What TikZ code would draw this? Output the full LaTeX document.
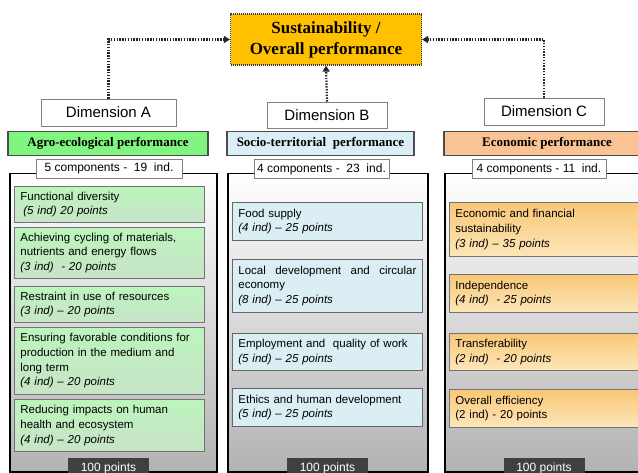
\documentclass[tikz,border=0pt]{standalone}
\usepackage{fontspec}
\setmainfont{Liberation Serif}
\setsansfont{Liberation Sans}
\usetikzlibrary{arrows.meta,positioning}
\definecolor{gold}{RGB}{255,192,0}
\definecolor{agro}{RGB}{128,245,128}
\definecolor{socio}{RGB}{220,238,245}
\definecolor{econ}{RGB}{250,195,150}
\definecolor{greentop}{RGB}{188,245,188}
\definecolor{greenbot}{RGB}{200,228,200}
\definecolor{bluebox}{RGB}{218,238,243}
\definecolor{orangetop}{RGB}{249,199,118}
\definecolor{orangebot}{RGB}{253,230,186}

\begin{document}
\begin{tikzpicture}[x=1pt,y=-1pt,
    dimbox/.style={draw=gray, fill=white, line width=.8pt, inner sep=0pt, minimum height=27pt,
      font=\sffamily\fontsize{15}{18}\selectfont},
    bar/.style={draw=black!70, line width=1.8pt, inner sep=0pt, minimum height=24pt,
      font=\rmfamily\bfseries\fontsize{13}{15}\selectfont},
    panel/.style={draw=black, line width=1.5pt, top color=white, bottom color=gray!60,
      anchor=north west, inner sep=0pt},
    countbox/.style={draw=gray, fill=white, line width=.8pt, inner sep=0pt, minimum height=19pt,
      font=\sffamily\fontsize{12}{14}\selectfont},
    compbox/.style={anchor=north west, line width=.8pt, text width=178pt, inner xsep=6pt,
      inner ysep=2pt, align=left, font=\sffamily\fontsize{11.5}{14.7}\selectfont},
    greencomp/.style={compbox, draw=black!55, top color=greentop, bottom color=greenbot},
    bluecomp/.style={compbox, draw=black!60, fill=bluebox},
    orangecomp/.style={compbox, draw=black!55, top color=orangetop, bottom color=orangebot},
    pts/.style={fill=black!75, text=white, anchor=north, inner sep=0pt, minimum width=81pt,
      minimum height=20pt, font=\sffamily\fontsize{12}{14}\selectfont},
    dotarrow/.style={line width=2.2pt, dash pattern=on 1.4pt off 1.4pt, black!85,
      -{Triangle[length=6pt,width=7pt]}}]

  \useasboundingbox (0,0) rectangle (638,473);
  \clip (0,0) rectangle (638,473);

  \node[draw=black!80, dash pattern=on 1pt off 1pt, line width=1.2pt, fill=gold, minimum width=191pt,
    minimum height=51pt, align=center, font=\rmfamily\bfseries\fontsize{17}{21}\selectfont] (S) at (326,39.5)
    {Sustainability /\\Overall performance};

  \node[dimbox, minimum width=135pt] (dimA) at (108.5,112.5) {Dimension A};
  \node[dimbox, minimum width=120pt, minimum height=26pt] (dimB) at (327,115) {Dimension B};
  \node[dimbox, minimum width=120pt] (dimC) at (544,111.5) {Dimension C};

  \draw[dotarrow] (dimA.north) |- (S.west);
  \draw[dotarrow] (dimB.north) -- (S.south);
  \draw[dotarrow] (dimC.north) |- (S.east);

  \node[bar, fill=agro, minimum width=200pt] (barA) at (108,143.5) {Agro-ecological performance};
  \node[bar, fill=socio, minimum width=187pt] (barB) at (320.5,143.5) {Socio-territorial\ \ performance};
  \node[bar, fill=econ, minimum width=206pt] (barC) at (547,143.5) {Economic performance};

  \node[panel, minimum width=207pt, minimum height=298pt] (panelA) at (9,173) {};
  \node[panel, minimum width=200pt, minimum height=298pt] (panelB) at (227,173) {};
  \node[panel, minimum width=206pt, minimum height=298pt] (panelC) at (444,173) {};

  \node[countbox, minimum width=146pt] (countA) at (109,168.5) {5 components -\ \ 19\ \ ind.};
  \node[countbox, minimum width=135pt] (countB) at (321.5,169) {4 components -\ \ 23\ \ ind.};
  \node[countbox, minimum width=134pt] (countC) at (539,169) {4 components - 11\ \ ind.};

  \node[greencomp, minimum height=36pt] (a1) at (14,186)
    {Functional diversity\\\hspace*{3pt}\textit{(5 ind) 20 points}};
  \node[greencomp, minimum height=51pt] (a2) at (14,227)
    {Achieving cycling of materials,\\nutrients and energy flows\\\textit{(3 ind)\ \ - 20 points}};
  \node[greencomp, minimum height=36pt] (a3) at (14,286)
    {Restraint in use of resources\\\textit{(3 ind) -- 20 points}};
  \node[greencomp, minimum height=67pt] (a4) at (14,327)
    {Ensuring favorable conditions for\\production in the medium and\\long term\\\textit{(4 ind) -- 20 points}};
  \node[greencomp, minimum height=52pt] (a5) at (14,399)
    {Reducing impacts on human\\health and ecosystem\\\textit{(4 ind) -- 20 points}};

  \node[bluecomp, minimum height=38pt] (b1) at (232,202)
    {Food supply\\\textit{(4 ind) -- 25 points}};
  \node[bluecomp, minimum height=53pt] (b2) at (232,259)
    {Local\hfill development\hfill and\hfill circular\\economy\\\textit{(8 ind) -- 25 points}};
  \node[bluecomp, minimum height=37pt] (b3) at (232,333)
    {Employment and\ \ quality of work\\\textit{(5 ind) -- 25 points}};
  \node[bluecomp, minimum height=38pt] (b4) at (232,388)
    {Ethics and human development\\\textit{(5 ind) -- 25 points}};

  \node[orangecomp, minimum height=54pt] (c1) at (449,202)
    {Economic and financial\\sustainability\\\textit{(3 ind) -- 35 points}};
  \node[orangecomp, minimum height=38pt] (c2) at (449,274)
    {Independence\\\textit{(4 ind)\ \ - 25 points}};
  \node[orangecomp, minimum height=37pt] (c3) at (449,333)
    {Transferability\\\textit{(2 ind)\ \ - 20 points}};
  \node[orangecomp, minimum height=38pt] (c4) at (449,389)
    {Overall efficiency\\(2 ind) - 20 points};

  \node[pts] (ptsA) at (108.5,458) {100 points};
  \node[pts] (ptsB) at (327.5,458) {100 points};
  \node[pts] (ptsC) at (544,458) {100 points};
\end{tikzpicture}
\end{document}
